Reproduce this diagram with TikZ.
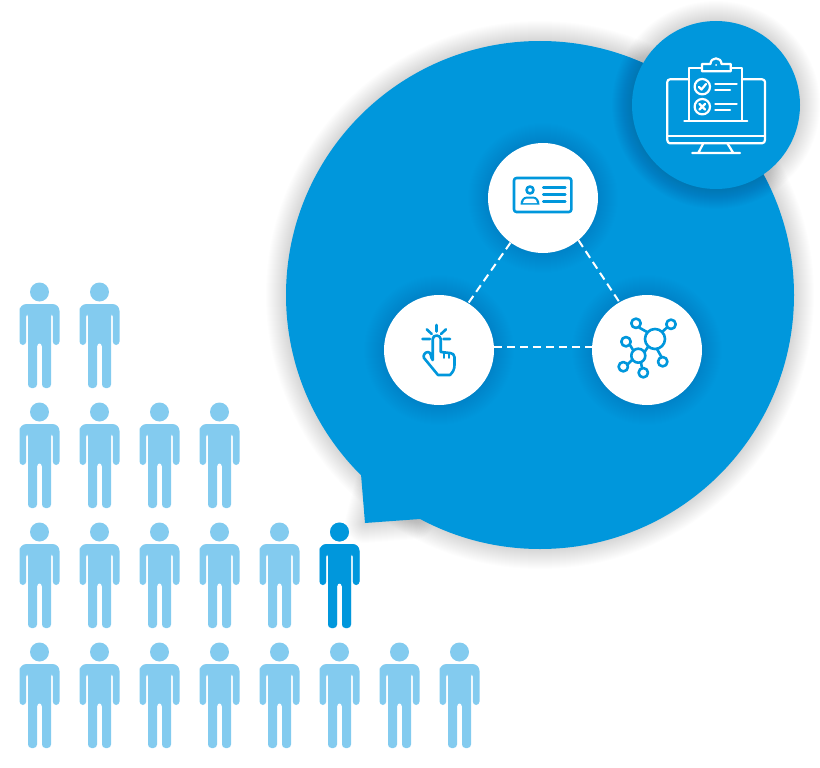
\documentclass[tikz,border=0pt]{standalone}
\usetikzlibrary{positioning}
\definecolor{bubbleblue}{HTML}{0097DC}
\definecolor{crowdblue}{HTML}{83CBEF}
\tikzset{
x=1pt,y=-1pt,
disc/.style={circle,fill=white,minimum size=110pt,inner sep=0pt},
iconline/.style={line width=2.6pt,bubbleblue,line cap=round,line join=round},
iconwhite/.style={line width=2.2pt,white,line cap=round,line join=round},
link/.style={white,line width=2pt,dash pattern=on 8pt off 5pt},
person/.pic={
	\fill (-.5,9) circle [radius=9.5];
	\fill[rounded corners=3.5pt] (-20.5,62) -- (-20.5,28) [rounded corners=7pt] -- (-20.5,21) -- (19.5,21) [rounded corners=3.5pt] -- (19.5,62) -- (12.8,62) -- (12.8,30) -- (11,30) -- (11,105) -- (2,105) -- (2,60) -- (-3,60) -- (-3,105) -- (-12,105) -- (-12,30) -- (-13.8,30) -- (-13.8,62) -- cycle;
}
}
\newcommand{\softshadow}[2]{
	\foreach \w in {2,4,...,40}
		\draw[black,opacity=#1,line width=\w pt,line join=round,line cap=round] #2;
}
\begin{document}
\begin{tikzpicture}
\useasboundingbox (0,0) rectangle (820,768);
% speech bubble
\softshadow{.009}{(540,295) circle [radius=254]}
\softshadow{.009}{(375,485) -- (365,523) -- (415,519)}
% crowd
\foreach \row/\top/\num in {1/283/2,2/403/4,3/523/6,4/643/8}
	\foreach \k in {1,...,\num}
		\pic[crowdblue] (p\row\k) at ({-20+60*\k},\top) {person};
\pic[bubbleblue] (chosen) at (340,523) {person};
\fill[bubbleblue] (361,474) -- (365,523) -- (420,519) -- (450,500) -- cycle;
\node[circle,fill=bubbleblue,minimum size=508pt,inner sep=0pt] (bubble) at (540,295) {};
\softshadow{.009}{(716,105) circle [radius=84]}
\node[circle,fill=bubbleblue,minimum size=168pt,inner sep=0pt] (screen) at (716,105) {};
\softshadow{.004}{(543,198) circle [radius=55]}
\softshadow{.004}{(439,350) circle [radius=55]}
\softshadow{.004}{(647,350) circle [radius=55]}
\node[disc] (card) at (543,198) {};
\node[disc] (tap) at (439,350) {};
\node[disc] (net) at (647,350) {};
\draw[link] (card.-126) -- (tap.58);
\draw[link] (card.-50) -- (net.120);
\draw[link] (tap.3) -- (net.177);
% monitor and clipboard
\draw[iconwhite] (689,79.3) -- (670,79.3) to[out=180,in=90] (667.3,82) -- (667.3,140) to[out=-90,in=180] (670,143.3) -- (762,143.3) to[out=0,in=-90] (765,140) -- (765,82) to[out=90,in=0] (762,79.3) -- (742,79.3);
\draw[iconwhite] (667.3,136) -- (765,136);
\draw[iconwhite] (703.3,143.3) -- (698.3,153) (727.3,143.3) -- (733.3,153) (692.3,153) -- (740,153);
\draw[iconwhite] (689.3,120.7) -- (689.3,68.3) -- (702,68.3) (730.7,68.3) -- (742,68.3) -- (742,120.7) (684.3,120.7) -- (747.3,120.7);
\draw[iconwhite] (702,64) -- (710.5,64) .. controls (710.5,56.5) and (721.5,56.5) .. (721.5,64) -- (730.7,64) -- (730.7,71.3) -- (702,71.3) -- cycle;
\fill[white] (716,65) circle [radius=1];
\draw[iconwhite] (702.3,86.7) circle [radius=7.7] (702.3,106.7) circle [radius=7.7];
\draw[iconwhite] (699,87) -- (701.5,89.5) -- (706,84) (699.5,104) -- (705,109.5) (705,104) -- (699.5,109.5);
\draw[iconwhite] (715.3,84) -- (736.7,84) (715.3,90) -- (730,90) (715.3,104) -- (736.7,104) (715.3,110) -- (730,110);
% id card
\draw[iconline] (514,178) [rounded corners=2.5pt] rectangle (571.3,212);
\draw[iconline] (530,190) circle [radius=3.5];
\fill[bubbleblue] (520.5,204.5) to[out=90,in=180] (527,196.5) -- (533,196.5) to[out=0,in=90] (539.5,204.5) -- cycle;
\fill[white] (523,203) to[out=90,in=180] (527,198.5) -- (533,198.5) to[out=0,in=90] (537,203) -- cycle;
\draw[iconline] (543.3,187.7) -- (565.3,187.7) (543.3,194.7) -- (565.3,194.7) (543.3,201.7) -- (565.3,201.7);
% tapping hand
\draw[iconline] (436.5,325) -- (436.5,331.5) (426.7,329.3) -- (431.7,334) (446,329.3) -- (441,334) (422.3,339) -- (430,339) (443.3,339) -- (450,339);
\draw[iconline] (432.7,360) -- (432.7,339) to[out=90,in=180] (436.7,335.5) to[out=0,in=90] (440.7,339) -- (440.7,352) -- (450,353) to[out=0,in=90] (454.5,357) -- (454.5,365) to[out=-90,in=45] (450,375) -- (438,375) -- (424,358) to[out=120,in=180] (428,352) to[out=0,in=135] (432.7,360);
\draw[iconline,line width=1.8pt] (444,352.5) -- (444,358) (449,353) -- (449,358);
% network
\draw[iconline] (655,339) circle [radius=10] (636,323.3) circle [radius=4.7] (671,324.3) circle [radius=4.7] (662.7,361.7) circle [radius=4.7] (638.3,355.7) circle [radius=7] (626,341.7) circle [radius=4.7] (623.3,366.7) circle [radius=4.7] (643.3,372.7) circle [radius=4.7];
\draw[iconline] (639,327.5) -- (647,332) (667,327.5) -- (662,332) (657,349) -- (661.5,357) (630,345) -- (633,350) (628,364) -- (632.5,359.5) (641,362.5) -- (642,368) (644.5,352) -- (648,347);
\end{tikzpicture}
\end{document}
